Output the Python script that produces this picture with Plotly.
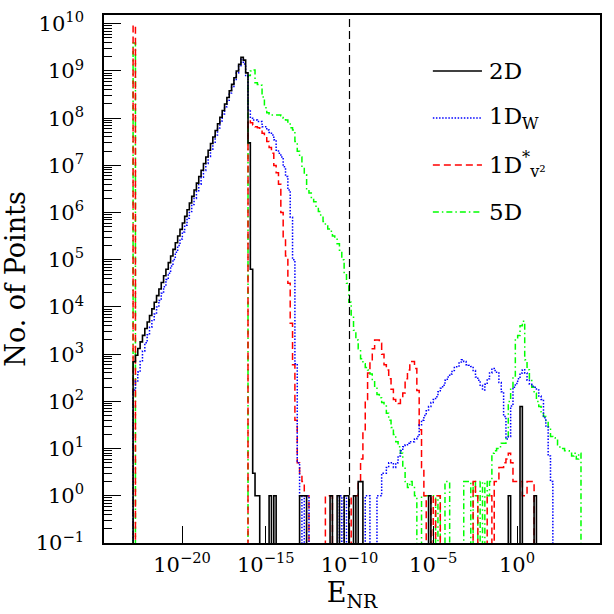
import plotly.graph_objects as go

# histogram grid: log10(E_NR) of the first bin edge, bin width in decades
BIN_LO = -22.92
BIN_W = 0.14
N_BINS = 200

# 2D
bins_2d = list(range(0, 54)) + [58, 60, 71, 72, 73, 84, 87, 90, 91, 94, 96, 97, 126, 160, 165, 171]
counts_2d = [690, 950, 1320, 1820, 2500, 3500, 4800, 6600, 9100, 1.26e4, 1.74e4, 2.4e4,
             3.3e4, 4.6e4, 6.3e4, 8.7e4, 1.2e5, 1.66e5, 2.3e5, 3.2e5, 4.4e5, 6.0e5, 8.3e5,
             1.15e6, 1.6e6, 2.2e6, 3.0e6, 4.2e6, 5.8e6, 7.9e6, 1.1e7, 1.5e7, 2.1e7, 2.9e7,
             4.0e7, 5.5e7, 7.6e7, 1.05e8, 1.45e8, 2.0e8, 2.75e8, 3.8e8, 5.2e8, 7.2e8, 1.0e9,
             1.38e9, 1.95e9, 1.7e9, 9.1e8, 3.0e7, 6.3e4, 3, 1, 1,
             1, 1, 1, 1, 1, 1, 1, 1, 1, 1, 2, 2, 1, 1, 78, 1]

# 1D_W
bins_1dw = (list(range(0, 72)) + [73, 74, 88, 90, 99, 100] + list(range(104, 179)))
counts_1dw = [174, 270, 417, 724, 1175, 1740, 2570, 3715, 5130, 7080, 1.0e4, 1.38e4, 1.95e4,
              2.7e4, 3.8e4, 5.2e4, 7.4e4, 1.02e5, 1.45e5, 2.0e5, 2.75e5, 3.9e5, 5.4e5, 7.6e5,
              1.05e6, 1.48e6, 2.0e6, 2.9e6, 4.0e6, 5.6e6, 7.8e6, 1.1e7, 1.55e7, 2.2e7, 3.1e7,
              4.4e7, 6.2e7, 8.7e7, 1.23e8, 1.74e8, 2.4e8, 3.4e8, 4.7e8, 6.6e8, 9.1e8, 1.29e9,
              1.8e9, 1.4e9, 8.0e8, 1.5e8, 1.0e8, 9.1e7, 9.1e7, 8.5e7, 8.5e7, 6.6e7, 6.6e7,
              5.6e7, 5.0e7, 4.4e7, 3.5e7, 2.1e7, 1.8e7, 1.5e7, 9.3e6, 5.8e6, 3.0e6, 8.0e5,
              1.0e5, 630, 5, 1,
              1, 1, 1, 1, 1, 1,
              1, 1, 3, 3, 4, 5, 5, 4, 5, 7, 9, 11, 12, 13, 14, 14, 16, 18, 32, 40, 50, 63, 78,
              95, 110, 126, 160, 190, 220, 280, 330, 380, 450, 520, 560, 680, 760, 700, 600,
              580, 550, 450, 330, 280, 220, 175, 230, 300, 400, 500, 450, 400, 250, 160, 48,
              16, 18, 80, 200, 240, 300, 400, 470, 400, 280, 230, 210, 200, 175, 130, 110, 45,
              30, 7, 2]

# 1D*_v2
bins_1dv = ([0] + list(range(49, 75)) + [82, 83, 84, 93, 94, 95] + list(range(96, 125))
            + [127, 129, 130, 145, 146, 151, 152] + list(range(154, 171)))
counts_1dv = [9.3e9,
              9.1e7, 8.0e7, 7.2e7, 6.6e7, 6.3e7, 5.6e7, 4.8e7, 4.2e7, 3.2e7, 2.4e7, 1.8e7,
              1.0e7, 7.0e6, 4.0e6, 1.0e6, 2.8e5, 1.2e5, 3.2e4, 4.5e3, 600, 40, 5, 3, 2, 1, 1,
              1, 1, 1, 1, 1, 1,
              2, 6, 25, 110, 400, 700, 1300, 2000, 2000, 1700, 1000, 600, 460, 300, 180, 110,
              95, 90, 110, 150, 300, 460, 700, 700, 500, 170, 25, 4, 1,
              1, 1, 1, 2, 1, 1, 1,
              2, 2, 4, 4, 5, 6, 8, 5, 2, 2, 2, 2, 1, 1, 2, 2, 2]

# 5D
bins_5d = ([0] + list(range(49, 121)) + [123, 124, 125, 126, 127, 128, 130, 133, 134, 141,
           142, 143, 145, 146, 148, 150] + list(range(151, 191)))
counts_5d = [3.9e9,
             8.0e8, 1.0e9, 1.05e9, 5.6e8, 5.2e8, 5.0e8, 2.8e8, 1.66e8, 1.3e8, 1.23e8, 1.17e8,
             1.17e8, 1.17e8, 1.17e8, 1.12e8, 1.0e8, 9.1e7, 8.0e7, 6.3e7, 5.6e7, 3.2e7, 2.0e7,
             1.5e7, 9.0e6, 6.3e6, 3.2e6, 2.6e6, 2.1e6, 1.7e6, 1.3e6, 1.05e6, 8.3e5, 6.5e5,
             5.2e5, 4.5e5, 4.0e5, 3.2e5, 2.9e5, 2.2e5, 1.6e5, 1.0e5, 5.0e4, 3.2e4, 1.26e4,
             6.3e3, 3.2e3, 2.0e3, 1.3e3, 800, 630, 525, 460, 380, 280, 200, 140, 120, 95, 80,
             56, 40, 28, 20, 14, 11, 8, 4, 2, 1.5, 2, 1.5, 1,
             1, 1, 1, 1, 1, 1, 1, 2, 2, 2, 2, 2, 2, 1, 2, 2,
             1, 2, 8, 9, 10, 11, 13, 13, 18, 100, 200, 330, 2000, 2500, 4000, 5000, 760, 470,
             300, 200, 150, 100, 78, 60, 48, 38, 29, 18, 17, 16, 12, 10, 10, 9, 9, 8, 7, 8, 6, 8]

E_CUT = 1e-10  # vertical dashed marker

ZERO = 1e-3  # empty bins are drawn below the axis floor


def step_xy(bins, counts):
    full = [ZERO] * N_BINS
    for b, c in zip(bins, counts):
        full[b] = c
    last = max(bins) + 2
    edges = [10 ** (BIN_LO + BIN_W * i) for i in range(last + 1)]
    x = [edges[0]] + edges
    y = [ZERO] + full[:last] + [ZERO]
    return x, y


FONT = "DejaVu Serif"

series = [
    ("2D", bins_2d, counts_2d, "black", "solid", 1.6),
    ("1D<sub>W</sub>", bins_1dw, counts_1dw, "#0000ff", "1.5px,1.6px", 1.5),
    ("1D<sup>*</sup><sub>v²</sub>", bins_1dv, counts_1dv, "#ff0000", "7px,4px", 1.5),
    ("5D", bins_5d, counts_5d, "#00ff00", "6px,3px,1.5px,3px", 1.5),
]

fig = go.Figure()
# draw in reverse so the black histogram sits on top
for name, b, c, col, dash, w in reversed(series):
    x, y = step_xy(b, c)
    fig.add_trace(go.Scatter(x=x, y=y, mode="lines", name=name, line_shape="hv",
                             line=dict(color=col, dash=dash, width=w), showlegend=False))

fig.add_trace(go.Scatter(x=[E_CUT, E_CUT], y=[0.1, 1.26e10], mode="lines", showlegend=False,
                         line=dict(color="black", dash="8px,4px", width=1.2)))

# hand-drawn legend in the upper right
leg_y = [0.894, 0.805, 0.716, 0.627]
for (name, b, c, col, dash, w), yy in zip(series, leg_y):
    fig.add_shape(type="line", xref="paper", yref="paper", x0=0.663, x1=0.762, y0=yy, y1=yy,
                  line=dict(color=col, dash=dash, width=w))
    fig.add_annotation(xref="paper", yref="paper", x=0.772, y=yy, text=name, showarrow=False,
                       xanchor="left", yanchor="middle", font=dict(size=23, color="black"))

ytick_pows = list(range(-1, 11))
xtick_pows = [-20, -15, -10, -5, 0]
minor_y = [m * 10 ** p for p in range(-1, 11) for m in range(2, 10)]

fig.update_layout(
    width=614, height=614,
    margin=dict(l=104, r=14, t=15, b=71),
    paper_bgcolor="white", plot_bgcolor="white",
    font=dict(family=FONT, color="black"),
)
fig.update_xaxes(
    type="log", range=[-24.657, 4.955], automargin=False,
    tickmode="array", tickvals=[10 ** p for p in xtick_pows],
    ticktext=[f"10<sup>{'−' if p < 0 else ''}{abs(p)}</sup>" for p in xtick_pows],
    ticks="inside", ticklen=17, tickwidth=1, tickcolor="black",
    showline=True, linecolor="black", linewidth=1.5, mirror=True,
    showgrid=False, zeroline=False, tickfont=dict(size=21), ticklabelstandoff=2,
    title=dict(text="E<sub>NR</sub>", font=dict(size=27), standoff=5),
)
fig.update_yaxes(
    type="log", range=[-1, 10.186], automargin=False,
    tickmode="array", tickvals=[10 ** p for p in ytick_pows],
    ticktext=[f"10<sup>{'−' if p < 0 else ''}{abs(p)}</sup>" for p in ytick_pows],
    ticks="inside", ticklen=17, tickwidth=1, tickcolor="black",
    minor=dict(tickmode="array", tickvals=minor_y, ticks="inside", ticklen=8,
               tickwidth=1, tickcolor="black", showgrid=False),
    showline=True, linecolor="black", linewidth=1.5, mirror=True,
    showgrid=False, zeroline=False, tickfont=dict(size=21), ticklabelstandoff=14,
    title=dict(text="No. of Points", font=dict(size=27), standoff=4),
)

# drop the browser's default page margin so the figure sits at the window corner
fig.write_html("out.html", config={"displayModeBar": False},
               post_script="document.body.style.margin='0';")
